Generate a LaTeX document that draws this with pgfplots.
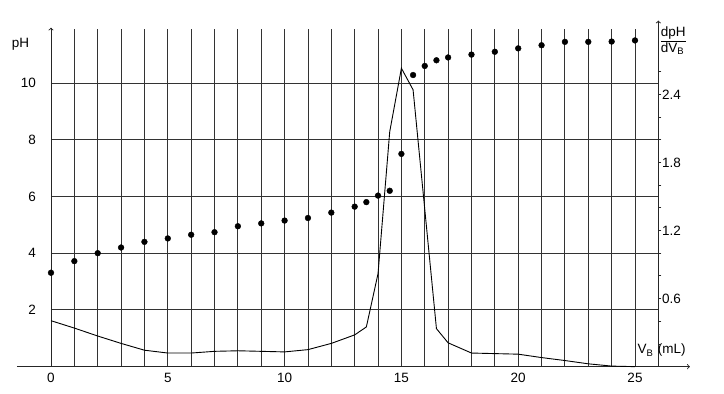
\documentclass[border=0pt]{standalone}
\usepackage{fontspec}
\setmainfont{Liberation Sans}
\usepackage{pgfplots}
\usepackage{pgfplotstable}
\pgfplotsset{compat=1.18}
\pgfplotstableread{
x ph
0 3.31
1 3.72
2 4.00
3 4.20
4 4.40
5 4.52
6 4.65
7 4.74
8 4.95
9 5.05
10 5.15
11 5.24
12 5.43
13 5.64
13.5 5.80
14 6.03
14.5 6.20
15 7.50
15.5 10.28
16 10.60
16.5 10.80
17 10.90
18 11.00
19 11.10
20 11.22
21 11.33
22 11.45
23 11.45
24 11.46
25 11.50
}\phdata
\pgfplotstableread{
x d
0 0.405
1 0.34
2 0.27
3 0.205
4 0.145
5 0.12
6 0.12
7 0.135
8 0.14
9 0.135
10 0.13
11 0.15
12 0.205
13 0.28
13.5 0.35
14 0.82
14.5 2.07
15 2.63
15.5 2.44
16.5 0.335
17 0.21
18 0.12
20 0.11
21 0.08
22 0.054
23 0.025
24 0.005
25 0
}\derivdata
\begin{document}
\fontsize{13.5}{15.5}\selectfont
\begin{tikzpicture}
\begin{axis}[
  scale only axis, width=607.4pt, height=337.6pt,
  xmin=0, xmax=26, ymin=0, ymax=11.9,
  axis lines=left, axis line style={draw=none},
  clip=false,
  xtick={0,...,25},
  xticklabels={0,,,,,5,,,,,10,,,,,15,,,,,20,,,,,25},
  ytick={2,4,6,8,10},
  yticklabels={2,4,6,8,10},
  major tick length=0pt,
  grid=major,
  major grid style={black!80, line width=0.9pt},
  xticklabel style={yshift=-2pt, font=\fontsize{13.5}{15.5}\selectfont},
  yticklabel style={inner xsep=0pt, xshift=-15pt, font=\fontsize{13.5}{15.5}\selectfont},
]
\path (axis cs:-2.183,-0.962) rectangle (axis cs:28.81,12.925);
\draw[black!85, line width=0.9pt, ->] (axis cs:-1.46,0) -- (axis cs:27.35,0);
\draw[black!85, line width=0.9pt, ->] (axis cs:0,0) -- (axis cs:0,11.95);
\draw[black!85, line width=0.9pt, ->] (axis cs:26,0) -- (axis cs:26,12.2);
\addplot[only marks, mark=*, mark size=2.9pt, black] table[x=x, y=ph] {\phdata};
\node at (axis cs:-1.306,11.375) {pH};
\node[anchor=north west, inner sep=0pt, align=left] at (axis cs:26.1,11.974) {\underline{dpH}\\dV\textsubscript{B}};
\node[anchor=base west, inner sep=0pt] at (axis cs:25.1,0.448) {V\textsubscript{B}\,\,(mL)};
\end{axis}
\begin{axis}[
  scale only axis, width=607.4pt, height=337.6pt,
  xmin=0, xmax=26, ymin=0, ymax=2.975,
  axis x line=none, axis y line*=right,
  axis line style={draw=none},
  clip=false,
  ytick={0.2,0.4,0.6,0.8,1.0,1.2,1.4,1.6,1.8,2.0,2.2,2.4,2.6},
  yticklabels={,,0.6,,,1.2,,,1.8,,,2.4,},
  tick align=outside,
  major tick length=3pt,
  tick style={black!85, line width=0.9pt},
  yticklabel style={inner xsep=0.5pt, font=\fontsize{13.5}{15.5}\selectfont},
]
\addplot[black, line width=0.9pt] table[x=x, y=d] {\derivdata};
\end{axis}
\end{tikzpicture}
\end{document}
